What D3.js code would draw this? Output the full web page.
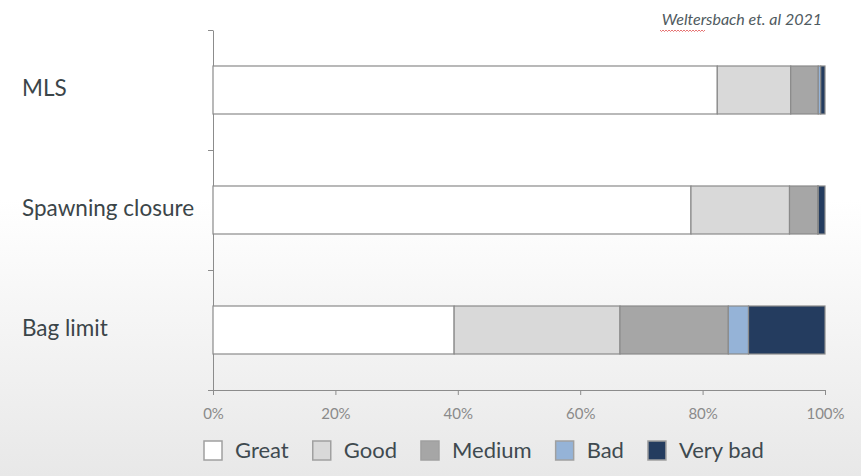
<!DOCTYPE html>
<meta charset="utf-8">
<script src="https://d3js.org/d3.v7.min.js"></script>
<style>
body { margin: 0; }
svg { display: block; }
.cat { font-family: Lato, "Open Sans", sans-serif; font-size: 22.5px; fill: #3b4549; }
.x.axis text { font-family: Lato, sans-serif; font-size: 15px; fill: #8a8a8a; }
.axis path, .axis line { stroke: #8c8c8c; }
.legend text { font-family: Lato, sans-serif; font-size: 22px; fill: #3f4a50; }
</style>
<body></body>
<script>

// data
var categories = ["MLS", "Spawning closure", "Bag limit"];
var ratings = ["Great", "Good", "Medium", "Bad", "Very bad"];
var great  = [82.4, 78.1, 39.4];
var good   = [12.0, 16.1, 27.1];
var medium = [4.5, 4.6, 17.7];
var bad    = [0.4, 0.1, 3.3];
var verybad = [0.7, 1.1, 12.5];
var tickValues = [0, 20, 40, 60, 80, 100];
var colors = ["#ffffff", "#d9d9d9", "#a6a6a6", "#95b3d7", "#243c5f"];

var width = 861, height = 476;

var svg = d3.select("body").append("svg")
  .attr("width", width)
  .attr("height", height);

// slide background fades to grey at the bottom
var grad = svg.append("defs").append("linearGradient")
  .attr("id", "bg").attr("x1", 0).attr("y1", 0).attr("x2", 0).attr("y2", 1);
grad.append("stop").attr("offset", "0.42").attr("stop-color", "#ffffff");
grad.append("stop").attr("offset", "1").attr("stop-color", "#e8e8e8");
svg.append("rect").attr("width", width).attr("height", height).attr("fill", "url(#bg)");

var xScale = d3.scaleLinear().domain([0, 100]).range([213, 825]);
var yScale = d3.scaleBand().domain(categories).range([30, 390])
  .paddingInner(0.6).paddingOuter(0.3);

// stacked rows
var rows = categories.map(function(c, i) {
  return { cat: c, Great: great[i], Good: good[i], Medium: medium[i], Bad: bad[i], "Very bad": verybad[i] };
});
var stacked = d3.stack().keys(ratings)(rows);
var color = d3.scaleOrdinal().domain(ratings).range(colors);

// y axis: ticks at category boundaries
var yLine = d3.scaleLinear().domain([0, categories.length]).range([30, 390]);
svg.append("g")
  .attr("class", "y axis")
  .attr("transform", "translate(" + xScale(0) + ",0)")
  .call(d3.axisLeft(yLine).ticks(categories.length).tickFormat("").tickSize(5).tickSizeOuter(0));

svg.append("g").selectAll("g")
  .data(stacked)
  .enter().append("g")
  .attr("fill", function(d) { return color(d.key); })
  .selectAll("rect")
  .data(function(d) { return d; })
  .enter().append("rect")
  .attr("x", function(d) { return xScale(d[0]); })
  .attr("width", function(d) { return xScale(d[1]) - xScale(d[0]); })
  .attr("y", function(d) { return yScale(d.data.cat); })
  .attr("height", yScale.bandwidth())
  .attr("stroke", "#8a8a8a")
  .attr("stroke-width", 1.2);

// x axis
var xAxisGroup = svg.append("g")
  .attr("class", "x axis")
  .attr("transform", "translate(0,390)")
  .call(d3.axisBottom(xScale).tickValues(tickValues)
    .tickFormat(function(d) { return d + "%"; })
    .tickSize(5).tickSizeOuter(0).tickPadding(13));
xAxisGroup.select(".domain").attr("stroke", "#8c8c8c");

// category labels
svg.selectAll(".cat")
  .data(categories)
  .enter().append("text")
  .attr("class", "cat")
  .attr("x", 22)
  .attr("y", function(d) { return yScale(d) + yScale.bandwidth() / 2 - 3; })
  .attr("dominant-baseline", "central")
  .text(function(d) { return d; });

// source note
svg.append("text")
  .attr("x", 822)
  .attr("y", 25)
  .attr("text-anchor", "end")
  .style("font-family", "Lato, sans-serif")
  .style("font-style", "italic")
  .style("font-size", "16px")
  .style("fill", "#4f5a60")
  .text("Weltersbach et. al 2021");

// red spell-check squiggle under first word
var sq = "M660,30";
for (var i = 0; i < 30; i++) sq += "l1.5," + (i % 2 ? -1.5 : 1.5);
svg.append("path").attr("d", sq).attr("fill", "none").attr("stroke", "#e05050").attr("stroke-width", 0.8);

// legend
var legend = svg.append("g").attr("class", "legend");
var lx = 204;
ratings.forEach(function(r, i) {
  legend.append("rect")
    .attr("x", lx).attr("y", 441)
    .attr("width", 18).attr("height", 19)
    .attr("fill", colors[i])
    .attr("stroke", "#a0a0a0").attr("stroke-width", 1.5);
  var t = legend.append("text")
    .attr("x", lx + 31).attr("y", 458)
    .text(r);
  lx += 31 + t.node().getComputedTextLength() + 24;
});

</script>
